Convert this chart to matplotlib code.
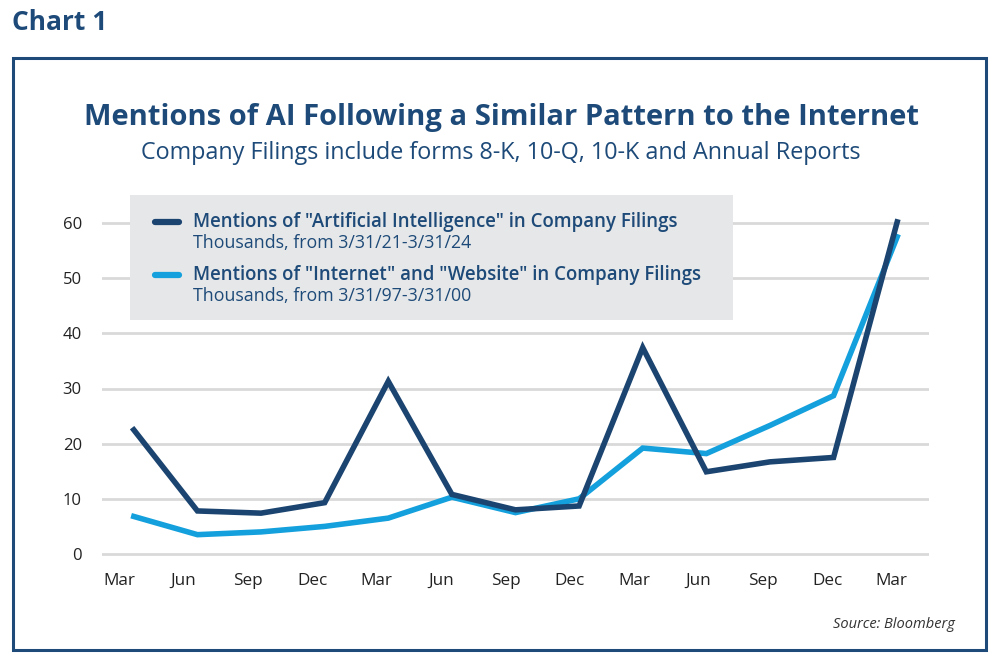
import matplotlib
matplotlib.use("Agg")
import matplotlib.pyplot as plt
from matplotlib.patches import Rectangle
from matplotlib.lines import Line2D

plt.rcParams['font.family'] = ['Open Sans', 'DejaVu Sans']

months = ["Mar", "Jun", "Sep", "Dec", "Mar", "Jun", "Sep", "Dec", "Mar", "Jun", "Sep", "Dec", "Mar"]
ai_mentions = [22.5, 7.8, 7.4, 9.3, 31.3, 10.8, 8.0, 8.7, 37.4, 14.9, 16.7, 17.5, 60.2]
internet_mentions = [6.8, 3.5, 4.0, 5.0, 6.5, 10.3, 7.5, 10.0, 19.2, 18.2, 23.3, 28.7, 57.5]
yticks = [0, 10, 20, 30, 40, 50, 60]

DARK = "#1b4470"
LIGHT = "#13a0dc"
TEXT = "#1d4a78"
GRID = "#d9d9d9"

W, H = 1000, 664
fig = plt.figure(figsize=(10, 6.64), dpi=100)

def fx(px):
    return px / W

def fy(py):
    return 1 - py / H

# outer frame
fig.patches.append(Rectangle((fx(13), fy(650)), fx(986) - fx(13), fy(58) - fy(650),
                             transform=fig.transFigure, fill=False, edgecolor="#1d4a78", linewidth=2.2))

fig.text(fx(12), fy(22), "Chart 1", fontsize=19, fontweight="bold", color=TEXT, ha="left", va="center")
fig.text(fx(501), fy(117), "Mentions of AI Following a Similar Pattern to the Internet",
         fontsize=21, fontweight="bold", color=TEXT, ha="center", va="center")
fig.text(fx(501), fy(153), "Company Filings include forms 8-K, 10-Q, 10-K and Annual Reports",
         fontsize=16.8, color=TEXT, ha="center", va="center")
fig.text(fx(955), fy(624), "Source: Bloomberg", fontsize=10.5, style="italic", color="#333333",
         ha="right", va="center")

ax = fig.add_axes([fx(102), fy(565), fx(929) - fx(102), fy(212) - fy(565)])
x = list(range(len(months)))
ax.plot(x, internet_mentions, color=LIGHT, linewidth=4, solid_joinstyle="miter", zorder=3)
ax.plot(x, ai_mentions, color=DARK, linewidth=4, solid_joinstyle="miter", zorder=4)
ax.set_xlim(-0.5, len(months) - 0.5)
ax.set_ylim(-2, 62)
ax.set_yticks(yticks)
ax.set_xticks([])
ax.yaxis.grid(True, color=GRID, linewidth=2)
ax.set_axisbelow(True)
for s in ax.spines.values():
    s.set_visible(False)
ax.tick_params(axis="both", length=0, labelsize=12, labelcolor="#222222")
ax.tick_params(axis="y", pad=14.5)

# month labels sit on a slightly wider spacing than the data in the reference
lab_ax = ax.twiny()
lab_ax.set_xlim(-0.264, 12.578)
lab_ax.set_xticks(x)
lab_ax.set_xticklabels(months)
lab_ax.xaxis.set_ticks_position("bottom")
lab_ax.xaxis.set_label_position("bottom")
lab_ax.tick_params(axis="x", length=0, labelsize=12.3, labelcolor="#222222", pad=6)
for s in lab_ax.spines.values():
    s.set_visible(False)

# legend box
fig.patches.append(Rectangle((fx(130), fy(320)), fx(733) - fx(130), fy(195) - fy(320),
                             transform=fig.transFigure, facecolor="#e6e7e8", edgecolor="none", zorder=5))
for ly, col, lab, sub in [(222, DARK, 'Mentions of "Artificial Intelligence" in Company Filings',
                           "Thousands, from 3/31/21-3/31/24"),
                          (275, LIGHT, 'Mentions of "Internet" and "Website" in Company Filings',
                           "Thousands, from 3/31/97-3/31/00")]:
    fig.lines.append(Line2D([fx(155), fx(179)], [fy(ly), fy(ly)], transform=fig.transFigure,
                            color=col, linewidth=4.5, solid_capstyle="round", zorder=6))
    fig.text(fx(193), fy(ly), lab, fontsize=13.4, fontweight="semibold", color=TEXT,
             ha="left", va="center", zorder=6)
    fig.text(fx(193), fy(ly + 21), sub, fontsize=12.8, color=TEXT, ha="left", va="center", zorder=6)

fig.savefig("out.png", dpi=100)
